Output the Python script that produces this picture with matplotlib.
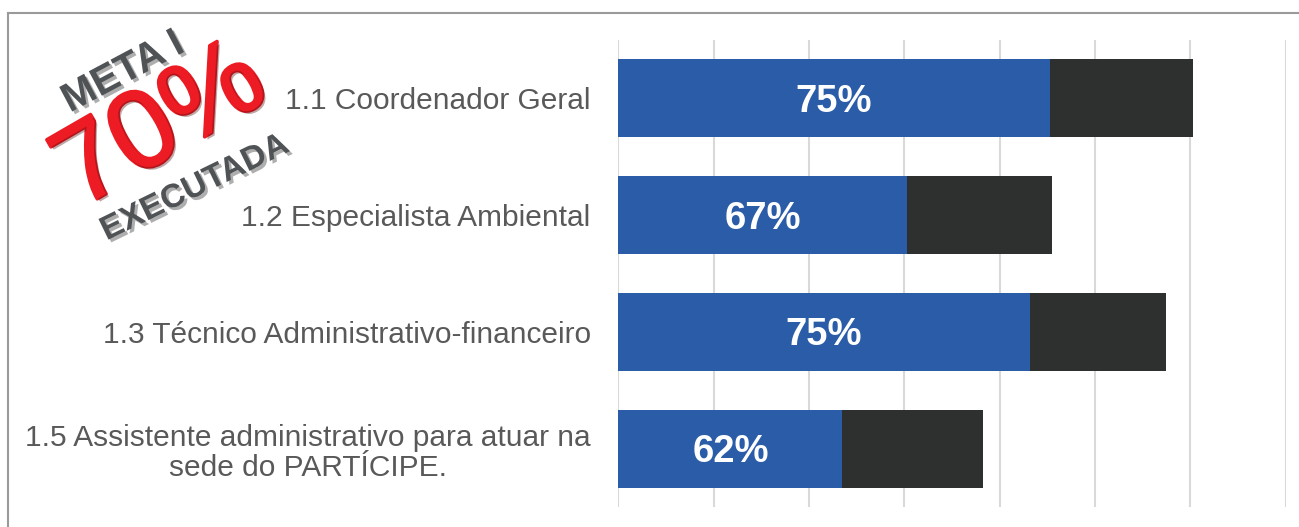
import matplotlib.pyplot as plt
import matplotlib.patheffects as pe
import numpy as np

categorias = ['1.1 Coordenador Geral',
              '1.2 Especialista Ambiental',
              '1.3 Técnico Administrativo-financeiro',
              '1.5 Assistente administrativo para atuar na\nsede do PARTÍCIPE.']
executado = [9.05, 6.05, 8.63, 4.7]
restante = [3.0, 3.05, 2.87, 2.95]
rotulos = ['75%', '67%', '75%', '62%']
grade = [0, 2, 4, 6, 8, 10, 12, 14]

plt.rcParams['font.family'] = ['Liberation Sans', 'DejaVu Sans']

fig = plt.figure(figsize=(12.99, 5.27), dpi=100)
ax = fig.add_axes([0.4761, 0.038, 0.5136, 0.8861])

y = np.arange(len(categorias))
ax.barh(y, executado, height=0.667, color='#2B5CA8', zorder=2)
ax.barh(y, restante, left=executado, height=0.667, color='#2E302F', zorder=2)

for i in range(len(y)):
    ax.text(executado[i] / 2, y[i] + 0.03, rotulos[i], color='white', fontsize=27.5,
            fontweight='bold', ha='center', va='center', zorder=3)

ax.set_xlim(0, 14)
ax.set_ylim(3.5, -0.5)
ax.set_xticks(grade)
ax.set_xticklabels([])
ax.grid(axis='x', color='#d9d9d9', linewidth=1.5, zorder=0)
ax.set_yticks(y)
ax.set_yticklabels(categorias, fontsize=21.5, color='#595959',
                   multialignment='center', linespacing=1.12)
ax.tick_params(axis='y', length=0, pad=20)
ax.tick_params(axis='x', length=0)
for s in ax.spines.values():
    s.set_visible(False)

# moldura cinza
fig.add_artist(plt.Line2D([8 / 1299, 1], [1 - 13 / 527, 1 - 13 / 527],
                          color='#9a9a9a', linewidth=1.5, transform=fig.transFigure))
fig.add_artist(plt.Line2D([8 / 1299, 8 / 1299], [0, 1 - 13 / 527],
                          color='#9a9a9a', linewidth=1.5, transform=fig.transFigure))

# carimbo
sombra = [pe.SimplePatchShadow(offset=(2, -2), alpha=0.35), pe.Normal()]
fig.text(123 / 1299, 1 - 72 / 527, 'META I', fontsize=29, fontweight='bold',
         color='#505355', rotation=28, ha='center', va='center',
         path_effects=sombra)
fig.text(162 / 1299, 1 - 128 / 527, '70%', fontsize=80, color='#ED1C24',
         rotation=30, ha='center', va='center',
         path_effects=[pe.Stroke(linewidth=2.5, foreground='#ED1C24'),
                       pe.SimplePatchShadow(offset=(2, -2), alpha=0.35), pe.Normal()])
fig.text(195 / 1299, 1 - 188 / 527, 'EXECUTADA', fontsize=24, fontweight='bold',
         color='#505355', rotation=26, ha='center', va='center',
         path_effects=sombra)

fig.savefig('out.png', dpi=100)
